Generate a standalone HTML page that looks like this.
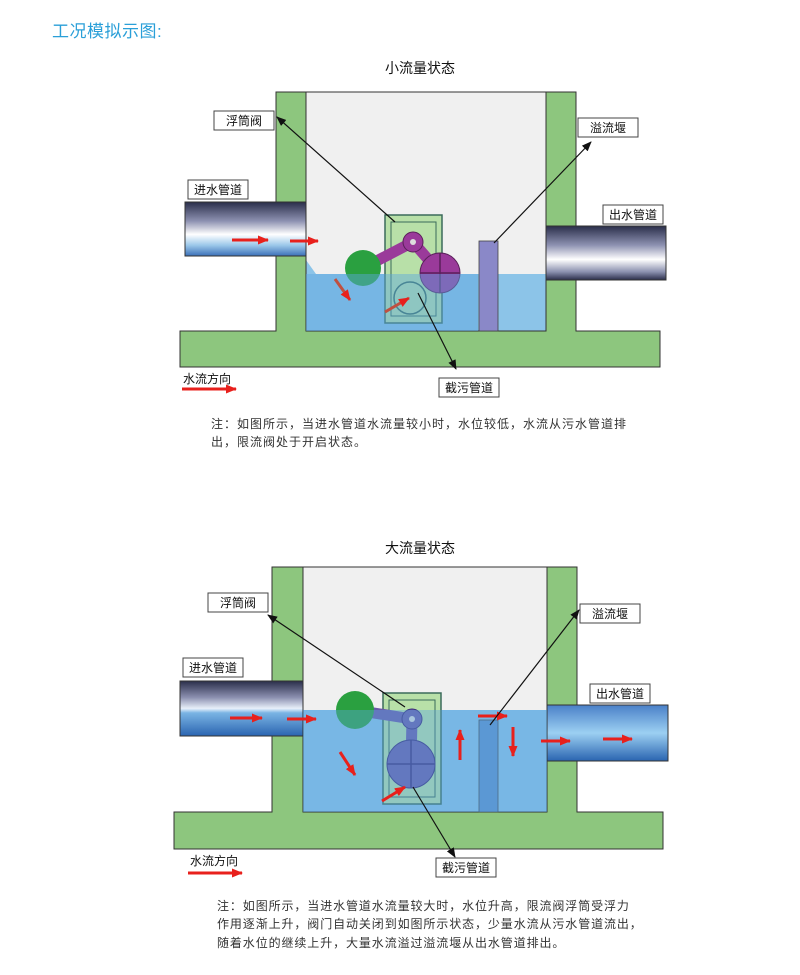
<!DOCTYPE html>
<html><head><meta charset="utf-8"><style>
body{margin:0;background:#fff;}
svg text{font-family:"Liberation Sans","Noto Sans CJK SC",sans-serif;}
</style></head><body>
<svg width="800" height="970" viewBox="0 0 800 970" xmlns="http://www.w3.org/2000/svg">
<defs>
<marker id="ah" markerWidth="10" markerHeight="8" refX="9" refY="4" orient="auto" markerUnits="userSpaceOnUse"><path d="M0,0 L10,4 L0,8 z" fill="#111"/></marker>
<marker id="ra" markerWidth="12" markerHeight="9" refX="10" refY="4.5" orient="auto" markerUnits="userSpaceOnUse"><path d="M0,0 L11,4.5 L0,9 z" fill="#e8201c"/></marker>
<linearGradient id="pipeD" x1="0" y1="0" x2="0" y2="1">
<stop offset="0" stop-color="#2a2e4a"/><stop offset="0.35" stop-color="#8c90b0"/><stop offset="0.6" stop-color="#ffffff"/><stop offset="0.8" stop-color="#9cc8ea"/><stop offset="1" stop-color="#3a70b8"/></linearGradient>
<linearGradient id="pipeW" x1="0" y1="0" x2="0" y2="1">
<stop offset="0" stop-color="#2a2e4a"/><stop offset="0.3" stop-color="#8c90b0"/><stop offset="0.5" stop-color="#e8f0fa"/><stop offset="0.58" stop-color="#7ab4e4"/><stop offset="1" stop-color="#2a64b0"/></linearGradient>
<linearGradient id="pipeO" x1="0" y1="0" x2="0" y2="1">
<stop offset="0" stop-color="#2a2e4a"/><stop offset="0.35" stop-color="#8c90b0"/><stop offset="0.62" stop-color="#ffffff"/><stop offset="0.85" stop-color="#8a90ae"/><stop offset="1" stop-color="#2a2e4a"/></linearGradient>
<linearGradient id="pipeOW" x1="0" y1="0" x2="0" y2="1">
<stop offset="0" stop-color="#4a80c8"/><stop offset="0.5" stop-color="#9cd0f2"/><stop offset="1" stop-color="#2a64b0"/></linearGradient>
</defs>

<text x="52" y="37" font-size="17" fill="#2a9fd8" letter-spacing="0.5">工况模拟示图:</text>

<!-- ===== TOP ===== -->
<text x="420" y="73" font-size="14" text-anchor="middle" fill="#111">小流量状态</text>
<rect x="306" y="92" width="240" height="239" fill="#f0f0f0"/>
<path d="M306,260 L316,274 L546,274 L546,331 L306,331 Z" fill="#8cc4e8"/>
<path d="M276,92 H306 V331 H546 V92 H576 V331 H660 V367 H180 V331 H276 Z" fill="#8dc67e" stroke="#333" stroke-width="1"/>
<line x1="306" y1="92" x2="546" y2="92" stroke="#333"/>
<rect x="185" y="202" width="121" height="54" fill="url(#pipeD)" stroke="#333" stroke-width="1"/>
<rect x="546" y="226" width="120" height="54" fill="url(#pipeO)" stroke="#333" stroke-width="1"/>
<rect x="479" y="241" width="19" height="90" fill="#8a88c8" stroke="#444" stroke-width="0.8"/>
<rect x="385" y="215" width="57" height="108" fill="#b8e0a8" stroke="#3a6a5a" stroke-width="1.5"/>
<rect x="391" y="222" width="45" height="94" fill="none" stroke="#3a6a5a" stroke-width="1"/>
<circle cx="410" cy="298" r="16" fill="none" stroke="#3a6a5a" stroke-width="1.5"/>
<path d="M363,268 L413,242 L440,273" fill="none" stroke="#9a3a9a" stroke-width="11"/>
<circle cx="363" cy="268" r="18" fill="#2aa040"/>
<circle cx="440" cy="273" r="20" fill="#9a3a9a" stroke="#5a205a"/>
<path d="M440,253 V293 M420,273 H460" stroke="#5a205a" stroke-width="1.5"/>
<circle cx="413" cy="242" r="10" fill="#9a3a9a" stroke="#5a205a"/>
<circle cx="413" cy="242" r="3" fill="#ddd"/>
<rect x="306" y="274" width="172" height="57" fill="#5aa6e0" opacity="0.45"/>
<g stroke="#e8201c" stroke-width="3" marker-end="url(#ra)">
<line x1="232" y1="240" x2="268" y2="240"/>
<line x1="290" y1="241" x2="318" y2="241"/>
<line x1="335" y1="279" x2="350" y2="300" stroke="#c05040"/>
<line x1="385" y1="312" x2="409" y2="298" stroke="#c05040"/>
</g>
<g stroke="#111" stroke-width="1.2" fill="none">
<line x1="395" y1="222" x2="277" y2="117" marker-end="url(#ah)"/>
<line x1="494" y1="243" x2="591" y2="142" marker-end="url(#ah)"/>
<line x1="418" y1="293" x2="456" y2="369" marker-end="url(#ah)"/>
</g>
<g font-size="12" fill="#111" text-anchor="middle">
<rect x="214" y="111" width="60" height="19" fill="#fff" stroke="#444"/><text x="244" y="125">浮筒阀</text>
<rect x="188" y="180" width="60" height="19" fill="#fff" stroke="#444"/><text x="218" y="194">进水管道</text>
<rect x="578" y="118" width="60" height="19" fill="#fff" stroke="#444"/><text x="608" y="132">溢流堰</text>
<rect x="603" y="205" width="60" height="19" fill="#fff" stroke="#444"/><text x="633" y="219">出水管道</text>
<rect x="439" y="378" width="60" height="19" fill="#fff" stroke="#444"/><text x="469" y="392">截污管道</text>
</g>
<text x="183" y="383" font-size="12" fill="#111">水流方向</text>
<line x1="182" y1="389" x2="236" y2="389" stroke="#e8201c" stroke-width="3" marker-end="url(#ra)"/>
<g font-size="12" fill="#333" letter-spacing="1.0">
<text x="211" y="428">注：如图所示，当进水管道水流量较小时，水位较低，水流从污水管道排</text>
<text x="211" y="446">出，限流阀处于开启状态。</text>
</g>

<!-- ===== BOTTOM ===== -->
<text x="420" y="553" font-size="14" text-anchor="middle" fill="#111">大流量状态</text>
<rect x="303" y="567" width="244" height="245" fill="#f0f0f0"/>
<rect x="303" y="710" width="244" height="102" fill="#8cc4e8"/>
<path d="M272,567 H303 V812 H547 V567 H577 V812 H663 V849 H174 V812 H272 Z" fill="#8dc67e" stroke="#333" stroke-width="1"/>
<line x1="303" y1="567" x2="547" y2="567" stroke="#333"/>
<rect x="180" y="681" width="123" height="55" fill="url(#pipeW)" stroke="#333" stroke-width="1"/>
<rect x="547" y="705" width="121" height="56" fill="url(#pipeOW)" stroke="#333" stroke-width="1"/>
<rect x="479" y="720" width="19" height="92" fill="#5d8fcc" stroke="#444" stroke-width="0.8"/>
<rect x="383" y="693" width="58" height="111" fill="#b8e0a8" stroke="#3a6a5a" stroke-width="1.5"/>
<rect x="389" y="700" width="46" height="97" fill="none" stroke="#3a6a5a" stroke-width="1"/>
<path d="M355,710 L412,719 L411,764" fill="none" stroke="#6a5aa8" stroke-width="11"/>
<circle cx="355" cy="710" r="19" fill="#2aa040"/>
<circle cx="411" cy="764" r="24" fill="#6a5aa8" stroke="#3a2a78"/>
<path d="M411,740 V788 M387,764 H435" stroke="#3a2a78" stroke-width="1.5"/>
<circle cx="412" cy="719" r="10" fill="#6a5aa8" stroke="#3a2a78"/>
<circle cx="412" cy="719" r="3" fill="#ddd"/>
<rect x="303" y="710" width="244" height="102" fill="#5aa6e0" opacity="0.4"/>
<g stroke="#e8201c" stroke-width="3" marker-end="url(#ra)">
<line x1="230" y1="718" x2="262" y2="718"/>
<line x1="287" y1="719" x2="316" y2="719"/>
<line x1="478" y1="716" x2="507" y2="716"/>
<line x1="460" y1="760" x2="460" y2="730"/>
<line x1="513" y1="727" x2="513" y2="756"/>
<line x1="541" y1="741" x2="570" y2="741"/>
<line x1="603" y1="739" x2="632" y2="739"/>
<line x1="340" y1="752" x2="355" y2="775"/>
<line x1="382" y1="801" x2="405" y2="787"/>
</g>
<g stroke="#111" stroke-width="1.2" fill="none">
<line x1="405" y1="707" x2="268" y2="615" marker-end="url(#ah)"/>
<line x1="490" y1="725" x2="579" y2="610" marker-end="url(#ah)"/>
<line x1="413" y1="787" x2="455" y2="857" marker-end="url(#ah)"/>
</g>
<g font-size="12" fill="#111" text-anchor="middle">
<rect x="208" y="593" width="60" height="19" fill="#fff" stroke="#444"/><text x="238" y="607">浮筒阀</text>
<rect x="183" y="658" width="60" height="19" fill="#fff" stroke="#444"/><text x="213" y="672">进水管道</text>
<rect x="580" y="604" width="60" height="19" fill="#fff" stroke="#444"/><text x="610" y="618">溢流堰</text>
<rect x="590" y="684" width="60" height="19" fill="#fff" stroke="#444"/><text x="620" y="698">出水管道</text>
<rect x="436" y="858" width="60" height="19" fill="#fff" stroke="#444"/><text x="466" y="872">截污管道</text>
</g>
<text x="190" y="865" font-size="12" fill="#111">水流方向</text>
<line x1="188" y1="873" x2="242" y2="873" stroke="#e8201c" stroke-width="3" marker-end="url(#ra)"/>
<g font-size="12" fill="#333" letter-spacing="0.9">
<text x="217" y="910">注：如图所示，当进水管道水流量较大时，水位升高，限流阀浮筒受浮力</text>
<text x="217" y="928">作用逐渐上升，阀门自动关闭到如图所示状态，少量水流从污水管道流出，</text>
<text x="217" y="947">随着水位的继续上升，大量水流溢过溢流堰从出水管道排出。</text>
</g>
</svg>
</body></html>
